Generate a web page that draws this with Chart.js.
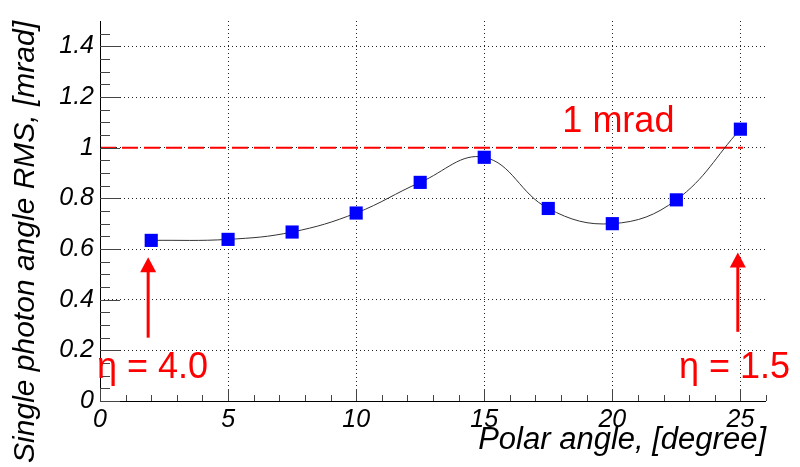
<!DOCTYPE html>
<html>
<head>
<meta charset="utf-8">
<script src="https://cdn.jsdelivr.net/npm/chart.js@4.4.1/dist/chart.umd.min.js"></script>
<style>
  html, body { margin: 0; padding: 0; background: #fff; }
  #wrap { width: 800px; height: 467px; }
</style>
</head>
<body>
<div id="wrap"><canvas id="rmsChart"></canvas></div>
<script>
// values
const polarAngle = [2, 5, 7.5, 10, 12.5, 15, 17.5, 20, 22.5, 25];
const angleRms = [0.634, 0.638, 0.667, 0.742, 0.863, 0.962, 0.760, 0.700, 0.794, 1.073];
const limitX = [0, 25.1];
const limitY = [1, 1];
const xTicks = [0, 5, 10, 15, 20, 25];
const yTicks = [0, 0.2, 0.4, 0.6, 0.8, 1, 1.2, 1.4];

// annotations (data units)
const labels = [
  { text: "1 mrad", x: 18.05, y: 1.062 },
  { text: "\u03b7 = 4.0", x: -0.12, y: 0.092 },
  { text: "\u03b7 = 1.5", x: 22.6, y: 0.092 },
];
const arrows = [
  { x: 1.88, from: 0.25, to: 0.567 },
  { x: 24.9, from: 0.273, to: 0.586 },
];

const FONT = "'Liberation Sans', Helvetica, Arial, sans-serif";

const rootStyle = {
  id: "rootStyle",
  afterDatasetsDraw(chart) {
    const { ctx, scales: { x, y } } = chart;
    const area = chart.chartArea;
    ctx.save();
    // axis lines
    ctx.strokeStyle = "#000";
    ctx.lineWidth = 1;
    ctx.beginPath();
    ctx.moveTo(area.left + 0.5, area.top);
    ctx.lineTo(area.left + 0.5, area.bottom);
    ctx.moveTo(area.left, Math.round(area.bottom) + 0.5);
    ctx.lineTo(area.right, Math.round(area.bottom) + 0.5);
    ctx.stroke();
    // inward ticks, ROOT style
    ctx.strokeStyle = "#444";
    ctx.beginPath();
    for (let i = 0; i <= 29; i++) {
      const py = Math.round(y.getPixelForValue(i * 0.05)) + 0.5;
      const len = i % 4 === 0 ? 20 : 10;
      ctx.moveTo(area.left, py);
      ctx.lineTo(area.left + len, py);
    }
    for (let i = 0; i <= 26; i++) {
      const px = Math.round(x.getPixelForValue(i)) + 0.5;
      const len = i % 5 === 0 ? 12 : 6;
      ctx.moveTo(px, area.bottom);
      ctx.lineTo(px, area.bottom - len);
    }
    ctx.stroke();

    // arrows
    ctx.strokeStyle = "#ff0000";
    ctx.fillStyle = "#ff0000";
    ctx.lineWidth = 3;
    arrows.forEach(a => {
      const px = x.getPixelForValue(a.x);
      const y0 = y.getPixelForValue(a.from);
      const y1 = y.getPixelForValue(a.to);
      ctx.beginPath();
      ctx.moveTo(px, y0);
      ctx.lineTo(px, y1 + 12);
      ctx.stroke();
      ctx.beginPath();
      ctx.moveTo(px, y1);
      ctx.lineTo(px - 8, y1 + 15);
      ctx.lineTo(px + 8, y1 + 15);
      ctx.closePath();
      ctx.fill();
    });

    // text labels
    ctx.font = "36px " + FONT;
    ctx.textAlign = "left";
    ctx.textBaseline = "alphabetic";
    labels.forEach(l => {
      ctx.fillText(l.text, x.getPixelForValue(l.x), y.getPixelForValue(l.y));
    });
    ctx.restore();
  }
};

const fmt = v => String(+Number(v).toFixed(2));

const ctx = document.getElementById("rmsChart");
const rmsChart = new Chart(ctx, {
  type: "line",
  data: {
    datasets: [
      {
        label: "Single photon angle RMS",
        data: polarAngle.map((v, i) => ({ x: v, y: angleRms[i] })),
        borderColor: "#333",
        borderWidth: 1,
        tension: 0.4,
        pointStyle: "rect",
        pointRadius: 9.3,
        pointHoverRadius: 9.3,
        pointBackgroundColor: "#0000ff",
        pointBorderWidth: 0,
        fill: false,
      },
      {
        label: "1 mrad",
        data: limitX.map((v, i) => ({ x: v, y: limitY[i] })),
        borderColor: "#ff0000",
        borderWidth: 2,
        borderDash: [16, 6],
        pointRadius: 0,
        fill: false,
      },
    ],
  },
  options: {
    responsive: true,
    maintainAspectRatio: false,
    animation: false,
    layout: { padding: { top: 7, right: 34, left: 0, bottom: 0 } },
    plugins: { legend: { display: false }, tooltip: { enabled: false } },
    scales: {
      x: {
        type: "linear",
        min: 0,
        max: 26,
        afterBuildTicks: s => { s.ticks = xTicks.map(v => ({ value: v })); },
        afterFit: s => { s.height = 66; },
        grid: { color: "#222", lineWidth: 1, drawTicks: false },
        border: { display: false, dash: [1, 3] },
        ticks: { color: "#000", padding: 4, callback: fmt, font: { family: FONT, size: 25, style: "italic" } },
        title: {
          display: true,
          text: "Polar angle, [degree]",
          align: "end",
          color: "#000",
          padding: { bottom: 8, top: 0 },
          font: { family: FONT, size: 31, style: "italic" },
        },
      },
      y: {
        type: "linear",
        min: 0,
        max: 1.5,
        afterBuildTicks: s => { s.ticks = yTicks.map(v => ({ value: v })); },
        afterFit: s => { s.width = 100; },
        grid: { color: "#222", lineWidth: 1, drawTicks: false },
        border: { display: false, dash: [1, 3] },
        ticks: { color: "#000", padding: 6, callback: fmt, font: { family: FONT, size: 25, style: "italic" } },
        title: {
          display: true,
          text: "Single photon angle RMS, [mrad]",
          align: "end",
          color: "#000",
          padding: { top: 8, bottom: 0 },
          font: { family: FONT, size: 30, style: "italic" },
        },
      },
    },
  },
  plugins: [rootStyle],
});
</script>
</body>
</html>
